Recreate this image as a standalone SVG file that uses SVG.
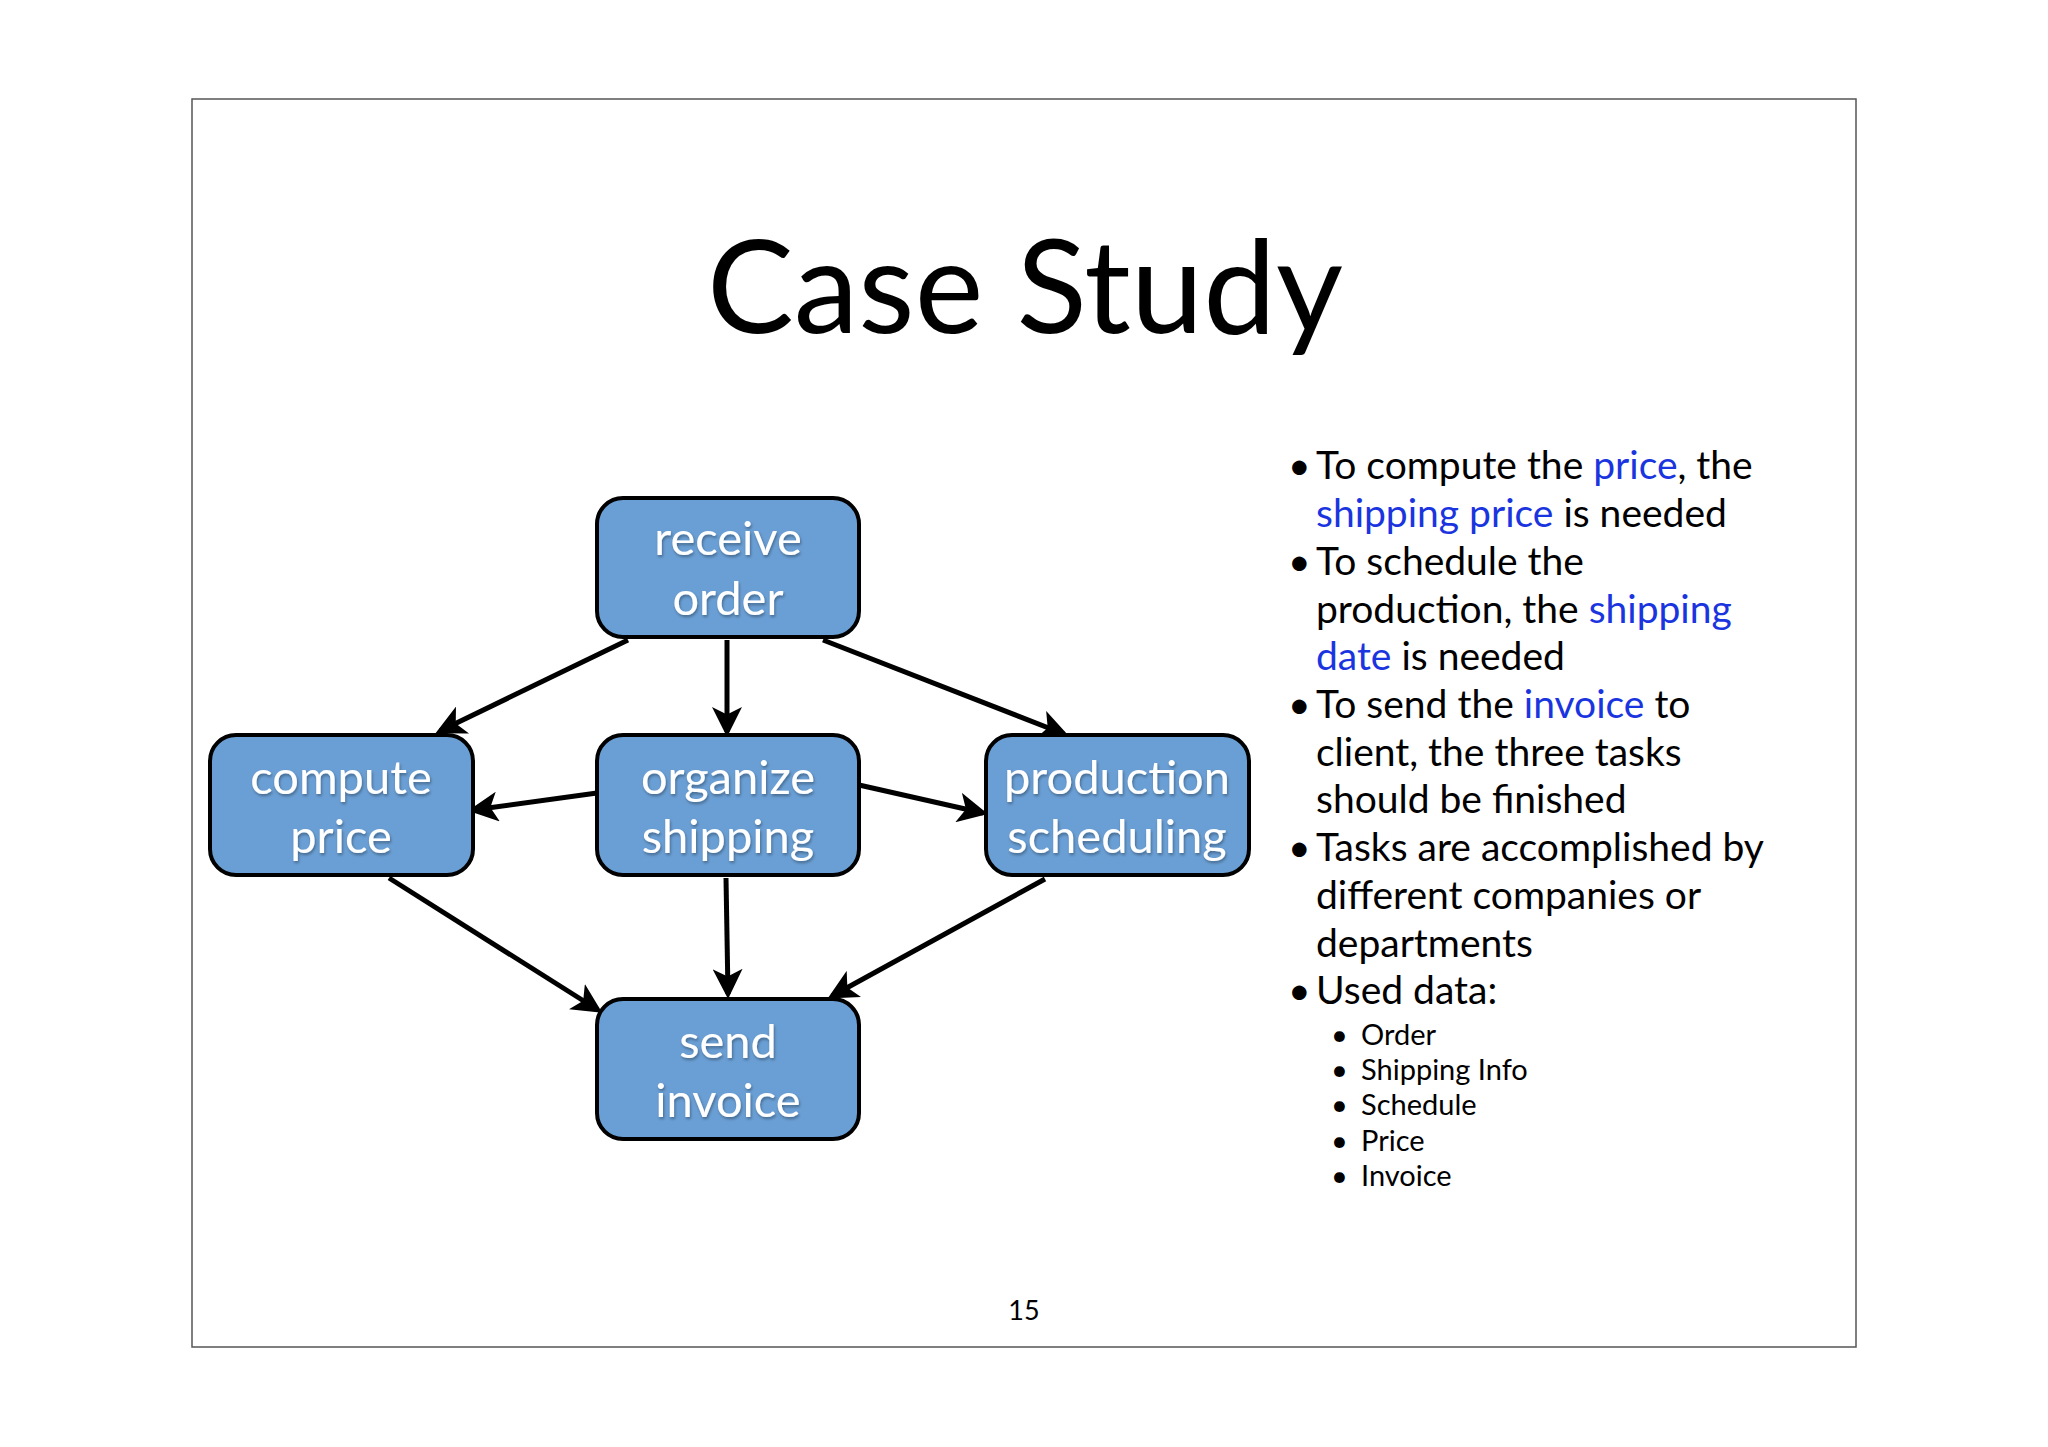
<svg xmlns="http://www.w3.org/2000/svg" width="2048" height="1447" viewBox="0 0 2048 1447">
<style>
text{font-family:Lato,"Open Sans","Liberation Sans",sans-serif}
.n rect{fill:#6a9fd5;stroke:#000;stroke-width:4}
.n text{fill:#fff;font-size:47px;text-anchor:middle}
.c line{stroke:#000;stroke-width:5;marker-end:url(#ah)}
.b{font-size:39px;fill:#000}
.s{font-size:29px;fill:#000}
.h{fill:#1a35e0}
</style>
<defs>
<marker id="ah" markerWidth="6" markerHeight="6" refX="5" refY="3" orient="auto" markerUnits="strokeWidth">
<path d="M0,0 L6,3 L0,6 L1.5,3 Z" fill="#000"/>
</marker>
<filter id="sh"><feDropShadow dx="1" dy="2" stdDeviation="1.5" flood-color="#000" flood-opacity="0.35"/></filter>
</defs>
<rect width="2048" height="1447" fill="#fff"/>
<rect x="192" y="99" width="1664" height="1248" fill="#fff" stroke="#555" stroke-width="1.5"/>
<text x="1025" y="333" font-size="130" text-anchor="middle">Case Study</text>
<g class="c">
<line x1="628" y1="640" x2="440" y2="731"/>
<line x1="727" y1="640" x2="727" y2="732"/>
<line x1="823" y1="640" x2="1064" y2="734"/>
<line x1="597" y1="793" x2="473" y2="810"/>
<line x1="859" y1="785" x2="983" y2="813"/>
<line x1="389" y1="878" x2="598" y2="1010"/>
<line x1="726" y1="878" x2="728" y2="994"/>
<line x1="1045" y1="879" x2="832" y2="996"/>
</g>
<g id="receive" class="n"><rect x="597" y="498" width="262" height="139" rx="26"/><text filter="url(#sh)"><tspan x="728" y="555">receive</tspan><tspan x="728" y="615">order</tspan></text></g>
<g id="compute" class="n"><rect x="210" y="735" width="263" height="140" rx="26"/><text filter="url(#sh)"><tspan x="341" y="794">compute</tspan><tspan x="341" y="853">price</tspan></text></g>
<g id="organize" class="n"><rect x="597" y="735" width="262" height="140" rx="26"/><text filter="url(#sh)"><tspan x="728" y="794">organize</tspan><tspan x="728" y="853">shipping</tspan></text></g>
<g id="production" class="n"><rect x="986" y="735" width="263" height="140" rx="26"/><text filter="url(#sh)"><tspan x="1117" y="794">production</tspan><tspan x="1117" y="853">scheduling</tspan></text></g>
<g id="send" class="n"><rect x="597" y="999" width="262" height="140" rx="26"/><text filter="url(#sh)"><tspan x="728" y="1058">send</tspan><tspan x="728" y="1117">invoice</tspan></text></g>
<g class="b">
<text x="1288" y="479">•</text><text x="1316" y="479">To compute the <tspan class="h">price</tspan>, the</text>
<text x="1316" y="527"><tspan class="h">shipping price</tspan> is needed</text>
<text x="1288" y="575">•</text><text x="1316" y="575">To schedule the</text>
<text x="1316" y="623">production, the <tspan class="h">shipping</tspan></text>
<text x="1316" y="670"><tspan class="h">date</tspan> is needed</text>
<text x="1288" y="718">•</text><text x="1316" y="718">To send the <tspan class="h">invoice</tspan> to</text>
<text x="1316" y="766">client, the three tasks</text>
<text x="1316" y="813">should be finished</text>
<text x="1288" y="861">•</text><text x="1316" y="861">Tasks are accomplished by</text>
<text x="1316" y="909">different companies or</text>
<text x="1316" y="957">departments</text>
<text x="1288" y="1004">•</text><text x="1316" y="1004">Used data:</text>
</g>
<g class="s">
<text x="1331" y="1045">•</text><text x="1361" y="1045">Order</text>
<text x="1331" y="1080">•</text><text x="1361" y="1080">Shipping Info</text>
<text x="1331" y="1115">•</text><text x="1361" y="1115">Schedule</text>
<text x="1331" y="1151">•</text><text x="1361" y="1151">Price</text>
<text x="1331" y="1186">•</text><text x="1361" y="1186">Invoice</text>
</g>
<text x="1024" y="1320" font-size="27" text-anchor="middle">15</text>
</svg>
